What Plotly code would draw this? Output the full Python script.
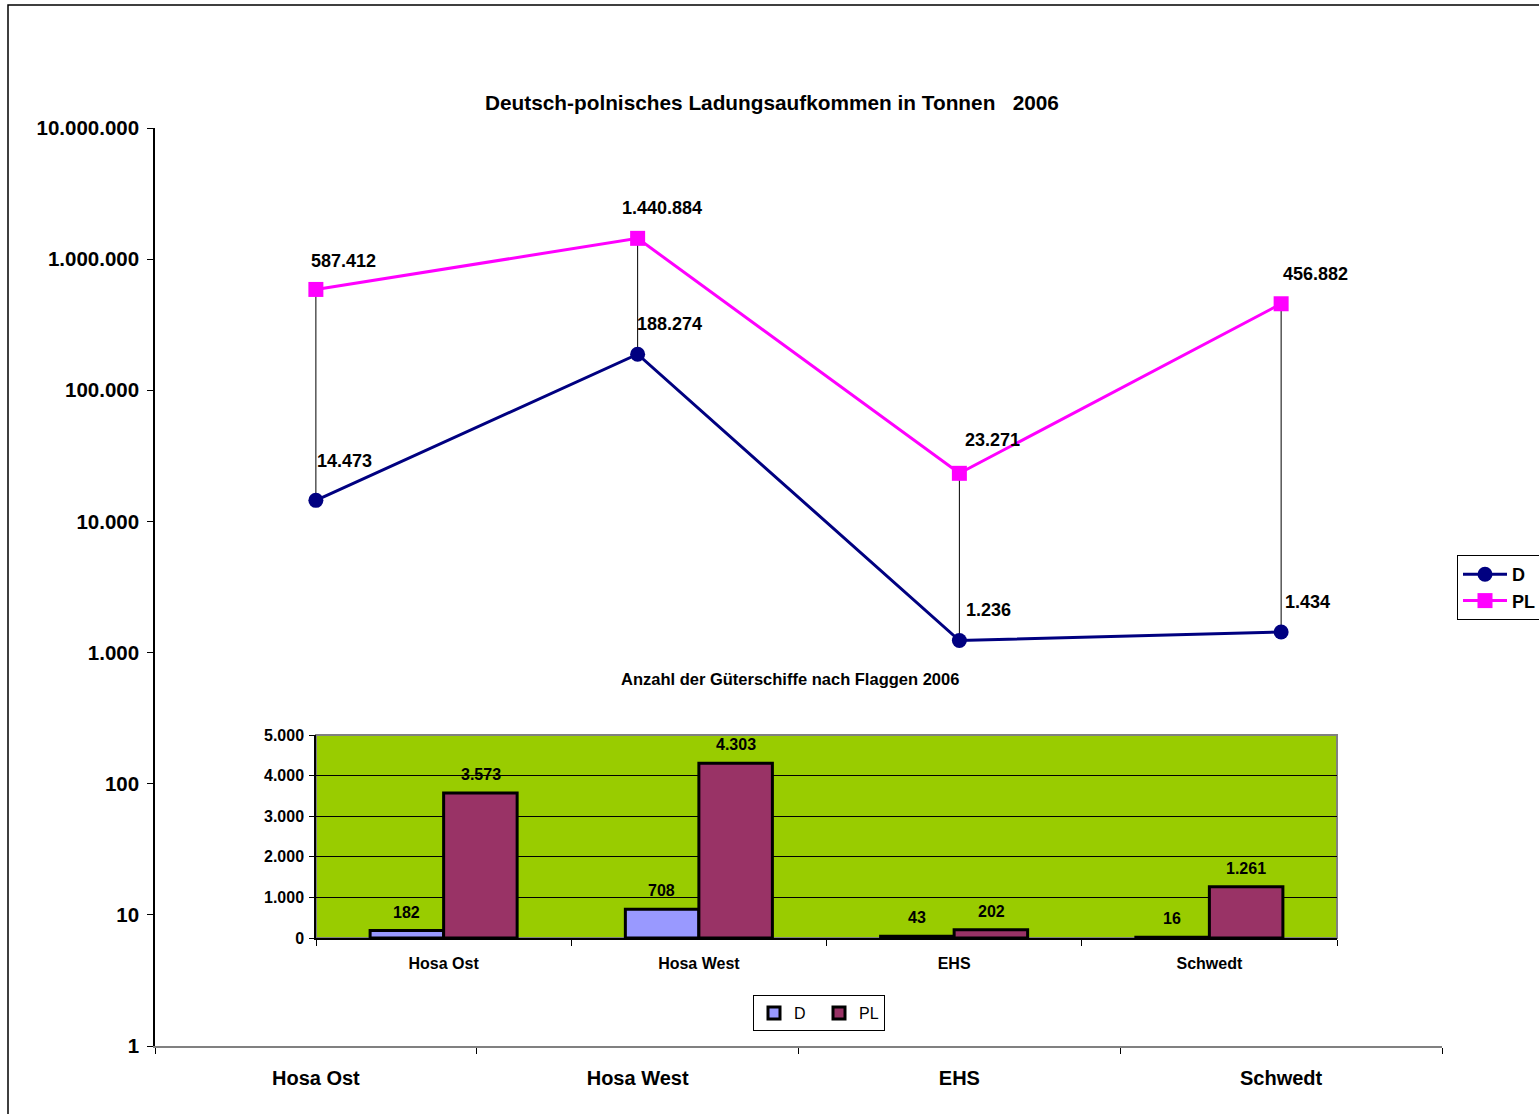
import math
import plotly.graph_objects as go

# ---------------- data ----------------
categories = ["Hosa Ost", "Hosa West", "EHS", "Schwedt"]
tonnage_D = [14473, 188274, 1236, 1434]
tonnage_PL = [587412, 1440884, 23271, 456882]
ships_D = [182, 708, 43, 16]
ships_PL = [3573, 4303, 202, 1261]
log_tick_vals = [1, 10, 100, 1000, 10000, 100000, 1000000, 10000000]
log_tick_text = ["1", "10", "100", "1.000", "10.000", "100.000", "1.000.000", "10.000.000"]
bar_tick_vals = [0, 1000, 2000, 3000, 4000, 5000]
bar_tick_text = ["0", "1.000", "2.000", "3.000", "4.000", "5.000"]

title_main = "Deutsch-polnisches Ladungsaufkommen in Tonnen   2006"
title_bars = "Anzahl der Güterschiffe nach Flaggen 2006"


def de(v):
    return f"{v:,}".replace(",", ".")


W, H = 1539, 1114
FONT = "Liberation Sans, Arial, sans-serif"


def px_x(p):
    return p / W


def px_y(p):
    return 1 - p / H


fig = go.Figure()

# drop (high-low) lines between D and PL
drop_x, drop_y = [], []
for c, d, p in zip(categories, tonnage_D, tonnage_PL):
    drop_x += [c, c, None]
    drop_y += [d, p, None]
fig.add_trace(go.Scatter(x=drop_x, y=drop_y, mode="lines",
                         line=dict(color="black", width=1),
                         showlegend=False, hoverinfo="skip",
                         xaxis="x", yaxis="y"))

fig.add_trace(go.Scatter(x=categories, y=tonnage_D, name="D", mode="lines+markers",
                         line=dict(color="#000080", width=3),
                         marker=dict(symbol="circle", size=15, color="#000080"),
                         xaxis="x", yaxis="y", legend="legend"))
fig.add_trace(go.Scatter(x=categories, y=tonnage_PL, name="PL", mode="lines+markers",
                         line=dict(color="#FF00FF", width=3),
                         marker=dict(symbol="square", size=15, color="#FF00FF"),
                         xaxis="x", yaxis="y", legend="legend"))

# inset bar chart
fig.add_trace(go.Bar(x=categories, y=ships_D, name="D",
                     marker=dict(color="#9999FF", line=dict(color="black", width=3)),
                     xaxis="x2", yaxis="y2", legend="legend2"))
fig.add_trace(go.Bar(x=categories, y=ships_PL, name="PL",
                     marker=dict(color="#993366", line=dict(color="black", width=3)),
                     xaxis="x2", yaxis="y2", legend="legend2"))

annotations = []
# line data labels (offset in px: style only); log axis -> annotation y in log10 units
off_D = [(29, 39), (32, 30), (29, 31), (26, 30)]
off_PL = [(28, 28), (24, 30), (33, 33), (34, 30)]
for vals, offs in ((tonnage_D, off_D), (tonnage_PL, off_PL)):
    for c, v, (dx, dy) in zip(categories, vals, offs):
        annotations.append(dict(x=c, y=math.log10(v), xref="x", yref="y", yanchor="middle",
                                text=de(v), showarrow=False, xshift=dx, yshift=dy,
                                font=dict(family=FONT, size=18, color="black", weight="bold")))
# bar data labels
for vals, sh in ((ships_D, -37), (ships_PL, 37)):
    for c, v in zip(categories, vals):
        annotations.append(dict(x=c, y=v, xref="x2", yref="y2", yanchor="bottom",
                                text=de(v), showarrow=False, xshift=sh, yshift=8,
                                font=dict(family=FONT, size=16, color="black", weight="bold")))
# titles
annotations.append(dict(x=px_x(772), y=px_y(103), xref="paper", yref="paper",
                        xanchor="center", yanchor="middle",
                        text=title_main, showarrow=False,
                        font=dict(family=FONT, size=20.8, color="black", weight="bold")))
annotations.append(dict(x=px_x(790), y=px_y(679), xref="paper", yref="paper",
                        xanchor="center", yanchor="middle",
                        text=title_bars, showarrow=False,
                        font=dict(family=FONT, size=16.5, color="black", weight="bold")))

shapes = [
    # outer frame
    dict(type="rect", xref="paper", yref="paper", x0=px_x(8), x1=1.1, y0=-0.1, y1=px_y(5),
         line=dict(color="black", width=1.5), fillcolor="rgba(0,0,0,0)", layer="below"),
    # green inset plot area
    dict(type="rect", xref="x2 domain", yref="y2 domain", x0=0, x1=1, y0=0, y1=1,
         line=dict(color="#808080", width=2), fillcolor="#99CC00", layer="below"),
]

fig.update_layout(
    width=W, height=H, autosize=False,
    margin=dict(l=0, r=0, t=0, b=0, autoexpand=False),
    paper_bgcolor="white", plot_bgcolor="rgba(0,0,0,0)",
    separators=",.",
    font=dict(family=FONT, color="black"),
    barmode="group", bargap=0.424, bargroupgap=0,
    annotations=annotations, shapes=shapes,
    xaxis=dict(domain=[px_x(155), px_x(1442)], anchor="y", type="category",
               categoryorder="array", categoryarray=categories,
               range=[-0.5, 3.5], showgrid=False, zeroline=False,
               showline=True, linecolor="#808080", linewidth=1.5,
               ticks="outside", tickson="boundaries", ticklen=6, tickcolor="black",
               ticklabelstandoff=13,
               tickfont=dict(family=FONT, size=20, color="black", weight="bold")),
    yaxis=dict(domain=[px_y(1046), px_y(128)], anchor="x", type="log", range=[0, 7],
               tickvals=log_tick_vals, ticktext=log_tick_text,
               showgrid=False, zeroline=False, showline=True, linecolor="black", linewidth=1.5,
               ticks="outside", ticklen=6, tickcolor="black", ticklabelstandoff=4,
               tickfont=dict(family=FONT, size=20.5, color="black", weight="bold")),
    xaxis2=dict(domain=[px_x(316), px_x(1337)], anchor="y2", type="category",
                categoryorder="array", categoryarray=categories,
                range=[-0.5, 3.5], showgrid=False, zeroline=False,
                showline=True, linecolor="black", linewidth=1.5,
                ticks="outside", tickson="boundaries", ticklen=6, tickcolor="black",
                ticklabelstandoff=10,
                tickfont=dict(family=FONT, size=16, color="black", weight="bold")),
    yaxis2=dict(domain=[px_y(938), px_y(735)], anchor="x2", range=[0, 5000],
                tickvals=bar_tick_vals, ticktext=bar_tick_text,
                showgrid=True, gridcolor="black", gridwidth=1, zeroline=False,
                showline=True, linecolor="black", linewidth=1.5,
                ticks="outside", ticklen=5, tickcolor="black", ticklabelstandoff=2,
                tickfont=dict(family=FONT, size=16, color="black", weight="bold")),
    legend=dict(x=px_x(1457), y=px_y(555), xanchor="left", yanchor="top",
                bgcolor="white", bordercolor="black", borderwidth=1,
                font=dict(family=FONT, size=18, color="black", weight="bold"),
                tracegroupgap=0, itemwidth=44),
    legend2=dict(x=px_x(819), y=px_y(995), xanchor="center", yanchor="top",
                 orientation="h", bgcolor="white", bordercolor="black", borderwidth=1,
                 font=dict(family=FONT, size=16, color="black"),
                 itemwidth=30, entrywidth=20),
)

fig.write_html("out.html", config={"displayModeBar": False},
               post_script="document.body.style.margin='0';document.body.style.overflow='hidden';")
